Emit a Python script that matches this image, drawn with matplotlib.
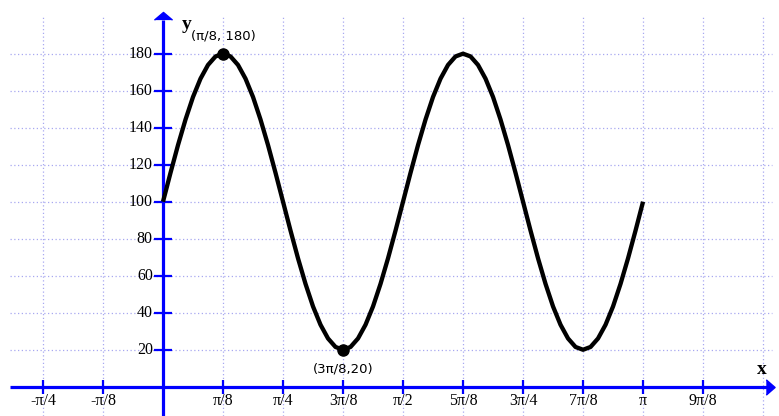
import numpy as np
import matplotlib.pyplot as plt

# ======================
# Data
# ======================
# curve samples every pi/64 from 0 to pi
one_period = [100, 115.6, 130.6, 144.4, 156.6, 166.5, 173.9, 178.5,
              180, 178.5, 173.9, 166.5, 156.6, 144.4, 130.6, 115.6,
              100, 84.4, 69.4, 55.6, 43.4, 33.5, 26.1, 21.5,
              20, 21.5, 26.1, 33.5, 43.4, 55.6, 69.4, 84.4]
y_curve = one_period + one_period + [100]
x_curve = np.linspace(0, np.pi, len(y_curve))

# labelled points
point_x = [np.pi / 8, 3 * np.pi / 8]
point_y = [180, 20]
point_labels = ["(π/8, 180)", "(3π/8,20)"]

# ticks
x_tick_mult = [-2, -1, 1, 2, 3, 4, 5, 6, 7, 8, 9]  # multiples of pi/8
x_tick_labels = ["-π/4", "-π/8", "π/8", "π/4", "3π/8", "π/2",
                 "5π/8", "3π/4", "7π/8", "π", "9π/8"]
y_ticks = [20, 40, 60, 80, 100, 120, 140, 160, 180]

# ======================
# Figure / frame
# ======================
W, H = 779, 416
fig = plt.figure(figsize=(W / 100, H / 100), dpi=100)
ax = fig.add_axes([0, 0, 1, 1])
ax.axis('off')

x0, x1 = -1.0668, 4.0314
y0, y1 = -15.8, 209.0
ax.set_xlim(x0, x1)
ax.set_ylim(y0, y1)

blue = '#0000ff'
grid_c = '#a8a8f0'
serif = 'Liberation Serif'

# grid
grid_x = np.arange(-2, 11) * np.pi / 8
ax.vlines(grid_x, y0, 200, colors=grid_c, lw=0.9, linestyles=(0, (1, 2)), zorder=1)
ax.hlines(y_ticks, -1.0, 3.985, colors=grid_c, lw=0.9, linestyles=(0, (1, 2)), zorder=1)

# axes lines
ax.plot([-1.0, 3.96], [0, 0], color=blue, lw=2.3, zorder=3, solid_capstyle='butt')
ax.plot([0, 0], [y0, 198], color=blue, lw=2.3, zorder=3, solid_capstyle='butt')
# arrow heads
ax.plot([3.975], [0], marker=[(-0.55, -1), (0.6, 0), (-0.55, 1)], ms=11,
        color=blue, mec=blue, zorder=4)
ax.plot([0], [200.5], marker=[(-1, -0.4), (0, 0.45), (1, -0.4)], ms=13,
        color=blue, mec=blue, zorder=4)

# ticks
x_ticks = np.array(x_tick_mult) * np.pi / 8
ax.plot(x_ticks, np.zeros(len(x_ticks)), ls='none', marker='|', ms=9.5,
        mew=1.6, color=blue, zorder=3)
ax.plot(np.zeros(len(y_ticks)), y_ticks, ls='none', marker='_', ms=13.5,
        mew=1.6, color=blue, zorder=3)

for xv, lab in zip(x_ticks, x_tick_labels):
    ax.text(xv, -7.8, lab, ha='center', va='center', fontsize=11.5,
            family=serif, color='black')
for yv in y_ticks:
    ax.text(-0.067, yv, str(yv), ha='right', va='center', fontsize=11.5,
            family=serif, color='black')

# axis names
ax.text(0.155, 195.5, "y", ha='center', va='center', fontsize=14,
        family=serif, fontweight='bold')
ax.text(3.92, 9.5, "x", ha='center', va='center', fontsize=14,
        family=serif, fontweight='bold')

# ======================
# Curve and points
# ======================
ax.plot(x_curve, y_curve, color='black', lw=3.1, zorder=5,
        solid_capstyle='butt', solid_joinstyle='round')
ax.plot(point_x, point_y, ls='none', marker='o', ms=8, color='black', zorder=6)

ax.text(point_x[0], 186.0, point_labels[0], ha='center', va='bottom',
        fontsize=9.5, family='DejaVu Sans')
ax.text(point_x[1], 13.0, point_labels[1], ha='center', va='top',
        fontsize=9.5, family='DejaVu Sans')

fig.savefig('out.png', dpi=100)
